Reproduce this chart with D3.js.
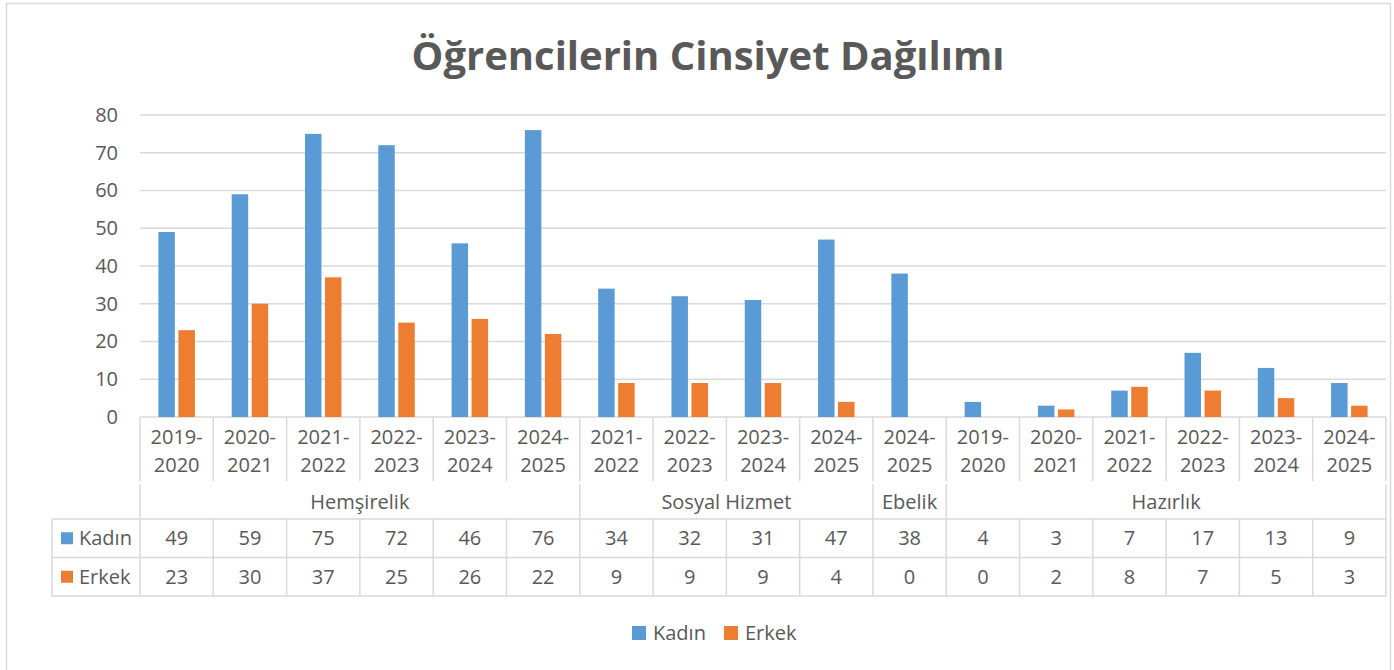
<!DOCTYPE html>
<html><head><meta charset="utf-8">
<script src="https://cdn.jsdelivr.net/npm/d3@7"></script>
<style>body{margin:0;background:#fff}svg{display:block}</style>
</head><body>
<svg id="c" width="1394" height="670"></svg>
<script>
const years = ["2019-2020","2020-2021","2021-2022","2022-2023","2023-2024","2024-2025","2021-2022","2022-2023","2023-2024","2024-2025","2024-2025","2019-2020","2020-2021","2021-2022","2022-2023","2023-2024","2024-2025"];
const groupNames = ["Hemşirelik","Sosyal Hizmet","Ebelik","Hazırlık"];
const groupSizes = [6,4,1,6];
const seriesNames = ["Kadın","Erkek"];
const kadin = [49,59,75,72,46,76,34,32,31,47,38,4,3,7,17,13,9];
const erkek = [23,30,37,25,26,22,9,9,9,4,0,0,2,8,7,5,3];
const yTicks = [0,10,20,30,40,50,60,70,80];
const colors = ["#5B9BD5","#ED7D31"];
const series = [kadin, erkek];

const svg = d3.select("#c");
const font = "'Open Sans', sans-serif";
const txt = "#595959";
const grid = "#D9D9D9";
const fs = 20;
const L = 140, R = 1386, T = 115, B = 417;

svg.append("rect").attr("x",6.5).attr("y",3.5).attr("width",1384).attr("height",700)
  .attr("fill","#fff").attr("stroke","#D9D9D9").attr("stroke-width",1.5);

svg.append("text").attr("x",708).attr("y",70).attr("text-anchor","middle")
  .attr("font-family",font).attr("font-weight",700).attr("font-size",40).attr("fill",txt)
  .text("Öğrencilerin Cinsiyet Dağılımı");

const x = d3.scaleBand().domain(d3.range(years.length)).range([L,R]).padding(0);
const y = d3.scaleLinear().domain([0,80]).range([B,T]);
const step = x.bandwidth();
const bw = step*0.225, gap = step*0.048;
const inner = d3.scaleOrdinal().domain([0,1]).range([(step-2*bw-gap)/2, (step-2*bw-gap)/2 + bw + gap]);

svg.append("g").selectAll("line").data(yTicks).join("line")
  .attr("x1",L).attr("x2",R).attr("y1",d=>y(d)).attr("y2",d=>y(d))
  .attr("stroke",grid).attr("stroke-width",1.5);
const yAxis = svg.append("g").attr("transform",`translate(${L-22},0)`)
  .call(d3.axisLeft(y).tickValues(yTicks).tickSize(0).tickPadding(0));
yAxis.select(".domain").remove();
yAxis.selectAll("text").attr("font-family",font).attr("font-size",fs).attr("fill",txt);

series.forEach((vals,si)=>{
  svg.append("g").selectAll("rect").data(vals).join("rect")
    .attr("x",(d,i)=>x(i)+inner(si)).attr("width",bw)
    .attr("y",d=>y(d)).attr("height",d=>y(0)-y(d))
    .attr("fill",colors[si]);
});

const line = (x1,y1,x2,y2)=>svg.append("line").attr("x1",x1).attr("y1",y1).attr("x2",x2).attr("y2",y2)
  .attr("stroke",grid).attr("stroke-width",1.5);
const rowTop = 519, row1 = 557.5, row2 = 596;
years.forEach((yl,i)=>{
  const cx = x(i)+step/2;
  const parts = yl.split("-");
  svg.append("text").attr("x",cx).attr("y",444).attr("text-anchor","middle")
    .attr("font-family",font).attr("font-size",fs).attr("fill",txt).text(parts[0]+"-");
  svg.append("text").attr("x",cx).attr("y",472).attr("text-anchor","middle")
    .attr("font-family",font).attr("font-size",fs).attr("fill",txt).text(parts[1]);
});
for(let i=0;i<=years.length;i++){
  const xx = i<years.length ? x(i) : R;
  line(xx,B,xx,481);
  line(xx,rowTop,xx,row2);
}
let acc = 0;
const bounds = [0];
groupSizes.forEach((n,gi)=>{
  const x0 = x(acc), x1 = acc+n<years.length ? x(acc+n) : R;
  svg.append("text").attr("x",(x0+x1)/2).attr("y",509).attr("text-anchor","middle")
    .attr("font-family",font).attr("font-size",fs).attr("fill",txt).text(groupNames[gi]);
  acc += n; bounds.push(acc);
});
bounds.forEach(b=>{
  const xx = b<years.length ? x(b) : R;
  line(xx,484,xx,rowTop);
});
line(52,rowTop,R,rowTop);
line(52,row1,R,row1);
line(52,row2,R,row2);
line(52,rowTop,52,row2);
const rowsY = [rowTop,row1];
series.forEach((vals,si)=>{
  const cy = (rowsY[si] + (si===0?row1:row2))/2;
  svg.append("rect").attr("x",61).attr("y",cy-6).attr("width",12).attr("height",12).attr("fill",colors[si]);
  svg.append("text").attr("x",79).attr("y",cy+7).attr("font-family",font).attr("font-size",fs)
    .attr("fill",txt).text(seriesNames[si]);
  svg.append("g").selectAll("text").data(vals).join("text")
    .attr("x",(d,i)=>x(i)+step/2).attr("y",cy+7).attr("text-anchor","middle")
    .attr("font-family",font).attr("font-size",fs).attr("fill",txt).text(d=>d);
});

const leg = [{k:0,x:632},{k:1,x:724}];
leg.forEach(l=>{
  svg.append("rect").attr("x",l.x).attr("y",626).attr("width",14).attr("height",14).attr("fill",colors[l.k]);
  svg.append("text").attr("x",l.x+21).attr("y",640).attr("font-family",font).attr("font-size",fs)
    .attr("fill",txt).text(seriesNames[l.k]);
});
</script>
</body></html>
